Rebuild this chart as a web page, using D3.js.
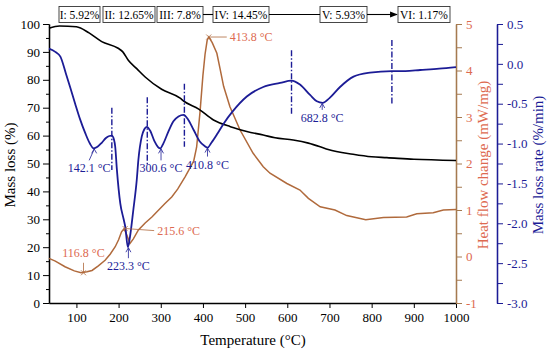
<!DOCTYPE html>
<html>
<head>
<meta charset="utf-8">
<script src="https://cdn.jsdelivr.net/npm/d3@7"></script>
<style>
body { margin: 0; background: #fff; }
svg { font-family: "Liberation Serif", "Times New Roman", serif; }
</style>
</head>
<body>
<script>
//data
var tgT = [35, 60, 100, 130, 160, 199, 210, 223, 243, 263, 302, 346, 354, 390, 425, 465, 504, 543, 571, 614, 650, 678, 697, 756, 800, 836, 900, 1000];
var tgMass = [98.5, 99.3, 99, 96.8, 93.7, 91.3, 90, 87, 84, 81, 76.6, 73.4, 72.4, 69.5, 65.6, 63.2, 61.5, 60.2, 59.2, 58.4, 57.3, 56, 55, 53.3, 52.4, 52.1, 51.5, 51.1];

var dtgT = [35, 50, 62, 75, 85, 97, 109, 121, 132, 141, 150, 160, 170, 178, 184, 189, 192, 196, 204, 212, 216, 222, 227, 235, 243, 247, 255, 261, 267, 275, 285, 293, 299, 306, 318, 330, 342, 354, 365, 378, 392, 404, 411, 420, 435, 449, 470, 504, 543, 583, 610, 630, 654, 670, 684, 700, 725, 757, 796, 848, 880, 915, 960, 1000];
var dtgRate = [0.19, 0.15, 0.09, -0.12, -0.29, -0.5, -0.7, -0.87, -1.0, -1.06, -1.04, -0.99, -0.93, -0.905, -0.9, -0.95, -1.04, -1.33, -1.75, -1.95, -2.05, -2.3, -2.17, -1.83, -1.46, -1.2, -0.91, -0.82, -0.79, -0.84, -0.97, -1.04, -1.06, -1.0, -0.85, -0.72, -0.66, -0.64, -0.7, -0.83, -0.97, -1.03, -1.05, -0.99, -0.87, -0.75, -0.6, -0.41, -0.29, -0.24, -0.21, -0.26, -0.39, -0.47, -0.49, -0.43, -0.29, -0.16, -0.11, -0.09, -0.09, -0.077, -0.06, -0.04];

var dscT = [35, 50, 73, 95, 111, 125, 137, 152, 168, 180, 192, 200, 207, 213, 220, 227, 235, 247, 263, 279, 295, 310, 326, 340, 358, 372, 378, 385, 393, 400, 405, 410, 414, 422, 433, 441, 449, 464, 488, 519, 543, 559, 599, 630, 650, 678, 713, 741, 786, 828, 883, 907, 946, 970, 1000];
var dscHeat = [-0.04, -0.1, -0.22, -0.31, -0.35, -0.33, -0.3, -0.2, -0.08, 0.05, 0.21, 0.36, 0.53, 0.6, 0.45, 0.28, 0.38, 0.57, 0.72, 0.85, 1.0, 1.14, 1.28, 1.45, 1.72, 1.95, 2.05, 2.35, 3.1, 3.9, 4.35, 4.65, 4.72, 4.6, 4.37, 4.02, 3.66, 3.22, 2.72, 2.22, 1.93, 1.79, 1.57, 1.43, 1.25, 1.07, 1.0, 0.88, 0.79, 0.84, 0.85, 0.92, 0.94, 1.0, 1.01];

//stage labels on top
var stageLabels = ["I: 5.92%", "II: 12.65%", "III: 7.8%", "IV: 14.45%", "V: 5.93%", "VI: 1.17%"];

//dash-dot stage boundaries (temperature, top and bottom in %/min)
var boundT = [184, 268, 356, 610, 848];
var boundTop = [-0.55, -0.42, -0.25, 0.17, 0.3];
var boundBottom = [-1.33, -1.27, -1.04, -0.64, -0.52];

//peak labels
var dtgPeakT = [142.1, 300.6, 410.8, 223.3, 682.8];
var dtgPeakRate = [-1.06, -1.06, -1.05, -2.3, -0.49];
var dscPeakT = [116.8, 215.6, 413.8];
var dscPeakHeat = [-0.35, 0.6, 4.72];

var blue = "#1c1c96", brown = "#b06a3c", salmon = "#dd6a50", brownAxis = "#a57a50";

var width = 550, height = 353;
var svg = d3.select("body").append("svg")
    .attr("width", width)
    .attr("height", height);

var x = d3.scaleLinear().domain([35, 1000]).range([49, 456]);
var yMass = d3.scaleLinear().domain([0, 100]).range([303, 24]);
var yHeat = d3.scaleLinear().domain([-1, 5]).range([303, 24]);
var yRate = d3.scaleLinear().domain([-3, 0.5]).range([303, 24]);

svg.append("defs").append("marker")
    .attr("id", "head")
    .attr("viewBox", "0 0 10 10")
    .attr("refX", 9).attr("refY", 5)
    .attr("markerWidth", 7).attr("markerHeight", 7)
    .attr("orient", "auto")
    .append("path")
    .attr("d", "M0,1L10,5L0,9Z")
    .attr("fill", "#000");

function hyphen(f){
    return function(d){ return f(d).replace("−", "-"); };
}

//axes
function styleAxis(g, color, textColor){
    g.selectAll("path, line").attr("stroke", color);
    g.selectAll("text").attr("fill", textColor).style("font-size", "13px")
        .style("font-family", "Liberation Serif");
}

var bottom = svg.append("g").attr("transform", "translate(0,303)")
    .call(d3.axisBottom(x).tickValues(d3.range(100, 1001, 100)).tickFormat(d3.format("d"))
        .tickSize(5).tickPadding(5).tickSizeOuter(0));
styleAxis(bottom, "#000", "#000");

var left = svg.append("g").attr("transform", "translate(49,0)")
    .call(d3.axisLeft(yMass).tickValues(d3.range(0, 101, 10)).tickSize(6).tickPadding(3).tickSizeOuter(0));
styleAxis(left, "#000", "#000");
svg.append("g").attr("transform", "translate(49,0)")
    .call(d3.axisLeft(yMass).tickValues(d3.range(5, 100, 10)).tickSize(3).tickFormat("").tickSizeOuter(0))
    .call(styleAxis, "#000", "#000");

var heatAxis = svg.append("g").attr("transform", "translate(456,0)")
    .call(d3.axisRight(yHeat).tickValues(d3.range(-1, 5.1, 1)).tickSize(6).tickPadding(4)
        .tickFormat(hyphen(d3.format("d"))).tickSizeOuter(0));
styleAxis(heatAxis, brownAxis, salmon);
svg.append("g").attr("transform", "translate(456,0)")
    .call(d3.axisRight(yHeat).tickValues(d3.range(-0.5, 5, 1)).tickSize(6).tickFormat("").tickSizeOuter(0))
    .call(styleAxis, brownAxis, salmon);

var rateAxis = svg.append("g").attr("transform", "translate(497,0)")
    .call(d3.axisRight(yRate).tickValues(d3.range(-3, 0.51, 0.5)).tickSize(6).tickPadding(4)
        .tickFormat(hyphen(d3.format(".1f"))).tickSizeOuter(0));
styleAxis(rateAxis, blue, blue);
svg.append("g").attr("transform", "translate(497,0)")
    .call(d3.axisRight(yRate).tickValues(d3.range(-2.75, 0.5, 0.5)).tickSize(6).tickFormat("").tickSizeOuter(0))
    .call(styleAxis, blue, blue);
svg.selectAll(".domain").attr("stroke-width", 1.3);

//axis titles
svg.append("text").attr("x", 253).attr("y", 345).attr("text-anchor", "middle")
    .style("font-size", "15px").text("Temperature (°C)");
svg.append("text").attr("transform", "translate(15,165) rotate(-90)").attr("text-anchor", "middle")
    .style("font-size", "15px").text("Mass loss (%)");
svg.append("text").attr("transform", "translate(488,165) rotate(-90)").attr("text-anchor", "middle")
    .style("font-size", "15px").attr("fill", salmon).text("Heat flow change (mW/mg)");
svg.append("text").attr("transform", "translate(543,165) rotate(-90)").attr("text-anchor", "middle")
    .style("font-size", "15px").attr("fill", blue).text("Mass loss rate (%/min)");

//curves
var tgLine = d3.line().x(function(d, i){ return x(tgT[i]); }).y(function(d){ return yMass(d); }).curve(d3.curveMonotoneX);
var dtgLine = d3.line().x(function(d, i){ return x(dtgT[i]); }).y(function(d){ return yRate(d); }).curve(d3.curveMonotoneX);
var dscLine = d3.line().x(function(d, i){ return x(dscT[i]); }).y(function(d){ return yHeat(d); }).curve(d3.curveLinear);

svg.append("path").datum(dscHeat).attr("d", dscLine)
    .attr("fill", "none").attr("stroke", brown).attr("stroke-width", 1.5);
svg.append("path").datum(tgMass).attr("d", tgLine)
    .attr("fill", "none").attr("stroke", "#000").attr("stroke-width", 1.6);
svg.append("path").datum(dtgRate).attr("d", dtgLine)
    .attr("fill", "none").attr("stroke", blue).attr("stroke-width", 1.8);

//dash-dot boundaries
svg.selectAll(".bound").data(boundT).enter().append("line")
    .attr("class", "bound")
    .attr("x1", function(d){ return x(d); }).attr("x2", function(d){ return x(d); })
    .attr("y1", function(d, i){ return yRate(boundTop[i]); })
    .attr("y2", function(d, i){ return yRate(boundBottom[i]); })
    .attr("stroke", blue).attr("stroke-width", 1.4)
    .attr("stroke-dasharray", "6,2,1.5,2");

//peak annotations: label offset from the point (dx, dy of label centre)
var dtgLab = [[-5, 20], [0, 20], [0, 17], [0, 19], [0, 15]];
dtgPeakT.forEach(function(t, i){
    var px = x(t), py = yRate(dtgPeakRate[i]);
    var o = dtgLab[i];
    svg.append("line").attr("x1", px + o[0]).attr("y1", py + o[1] - 8)
        .attr("x2", px).attr("y2", py + 1)
        .attr("stroke", blue).attr("stroke-width", 0.8);
    svg.append("path").attr("d", "M" + (px - 2.5) + "," + (py + 5) + "L" + px + "," + (py + 0.5) + "L" + (px + 2.5) + "," + (py + 5))
        .attr("fill", "none").attr("stroke", blue).attr("stroke-width", 0.8);
    svg.append("text").attr("x", px + o[0]).attr("y", py + o[1] + 4)
        .attr("text-anchor", "middle").attr("fill", blue).style("font-size", "12px")
        .text(t.toFixed(1) + " °C");
});

var dscLab = [[0, -20, "middle"], [32, 2, "start"], [21, 0, "start"]];
dscPeakT.forEach(function(t, i){
    var px = x(t), py = yHeat(dscPeakHeat[i]);
    var o = dscLab[i];
    if (i == 0){
        svg.append("line").attr("x1", px).attr("y1", py - 10).attr("x2", px).attr("y2", py)
            .attr("stroke", brown).attr("stroke-width", 0.8);
    } else {
        svg.append("line").attr("x1", px + o[0] - 3).attr("y1", py + o[1])
            .attr("x2", px + 1).attr("y2", py)
            .attr("stroke", brown).attr("stroke-width", 0.8);
    }
    svg.append("path").attr("d", "M" + (px - 2.5) + "," + (py - 2.5) + "L" + (px + 2.5) + "," + (py + 2.5) + "M" + (px - 2.5) + "," + (py + 2.5) + "L" + (px + 2.5) + "," + (py - 2.5))
        .attr("stroke", brown).attr("stroke-width", 0.8);
    svg.append("text").attr("x", px + o[0]).attr("y", py + o[1] + 4)
        .attr("text-anchor", o[2]).attr("fill", salmon).style("font-size", "12px")
        .text(t.toFixed(1) + " °C");
});

//stage boxes along the top (box left edges and widths in pixels)
var boxX = [59, 103, 157, 213, 320, 398];
var boxW = [41, 52, 46, 56, 47, 52];
var stageG = svg.append("g");
stageLabels.forEach(function(s, i){
    stageG.append("rect").attr("x", boxX[i]).attr("y", 6.5).attr("width", boxW[i]).attr("height", 16)
        .attr("fill", "none").attr("stroke", "#333").attr("stroke-width", 0.9);
    stageG.append("text").attr("x", boxX[i] + boxW[i] / 2).attr("y", 18.5)
        .attr("text-anchor", "middle").style("font-size", "11.5px").text(s);
});
for (var i = 2; i < stageLabels.length - 1; i++){
    stageG.append("line").attr("x1", boxX[i] + boxW[i]).attr("x2", boxX[i + 1] - (i == 4 ? 1 : 0))
        .attr("y1", 14.5).attr("y2", 14.5).attr("stroke", "#000").attr("stroke-width", 1.1)
        .attr("marker-end", i == 4 ? "url(#head)" : null);
}
</script>
</body>
</html>
